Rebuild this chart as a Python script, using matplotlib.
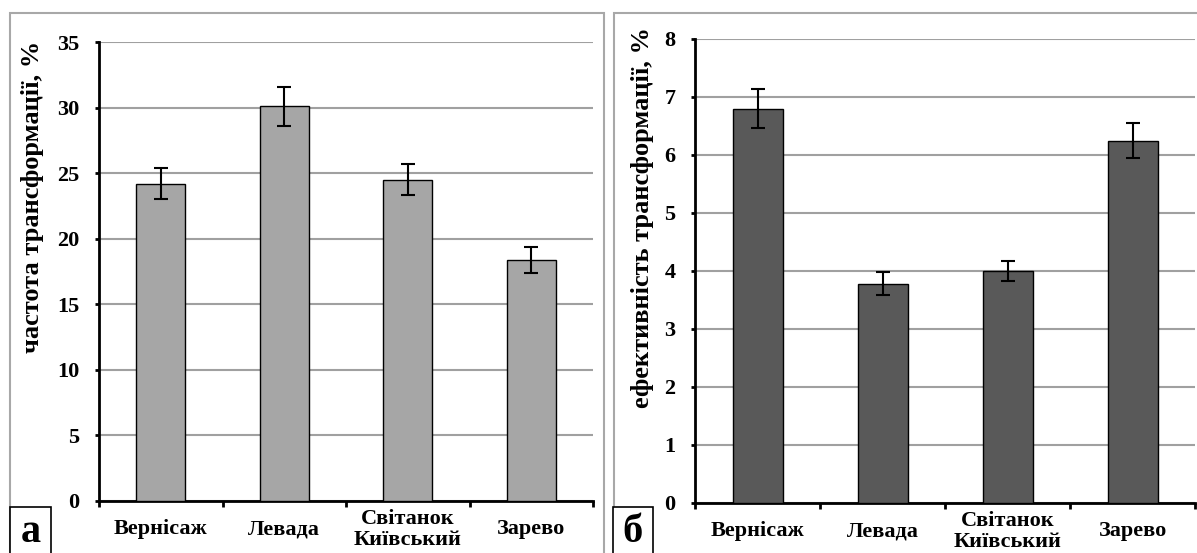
import matplotlib
matplotlib.use("Agg")
import matplotlib.pyplot as plt
from matplotlib.patches import Rectangle

categories = ["Вернісаж", "Левада", "Світанок\nКиївський", "Зарево"]
freq_values = [24.2, 30.1, 24.5, 18.4]
freq_errors = [1.2, 1.5, 1.2, 1.0]
eff_values = [6.8, 3.78, 4.0, 6.25]
eff_errors = [0.33, 0.2, 0.18, 0.3]
freq_ticks = [0, 5, 10, 15, 20, 25, 30, 35]
eff_ticks = [0, 1, 2, 3, 4, 5, 6, 7, 8]

plt.rcParams['font.family'] = ['Liberation Serif', 'DejaVu Serif']
plt.rcParams['font.weight'] = 'bold'

W, H = 1197, 553
fig = plt.figure(figsize=(W / 100, H / 100), dpi=100)


def px_rect(x0, y_top, x1, y_bot):
    return [x0 / W, 1 - y_bot / H, (x1 - x0) / W, (y_bot - y_top) / H]


# panel frames
for (x0, y0, x1, y1) in [(10, 13, 604, 560), (614, 13, 1205, 560)]:
    fig.patches.append(Rectangle((x0 / W, 1 - y1 / H), (x1 - x0) / W, (y1 - y0) / H,
                                 transform=fig.transFigure, facecolor='none',
                                 edgecolor='#A8A8A8', lw=1.5, zorder=0))

ax1 = fig.add_axes(px_rect(99, 42, 593, 501))
ax2 = fig.add_axes(px_rect(695, 39, 1195, 503))


def style(ax, values, errors, ticks, color, ylabel, label_xy):
    x = list(range(len(categories)))
    ax.bar(x, values, width=0.4, color=color, edgecolor='black', linewidth=1.0, zorder=3)
    ax.errorbar(x, values, yerr=errors, fmt='none', ecolor='black', elinewidth=1.5,
                capsize=5, capthick=1.5, zorder=4)
    ax.set_xlim(-0.5, len(categories) - 0.5)
    ax.set_ylim(ticks[0], ticks[-1])
    ax.set_yticks(ticks)
    ax.set_yticklabels([str(t) for t in ticks], fontsize=16, fontweight='bold')
    ax.yaxis.grid(True, color='#A0A0A0', lw=1.5, zorder=0)
    ax.set_axisbelow(True)
    ax.set_xticks(x)
    ax.set_xticklabels(categories, fontsize=16, fontweight='bold', linespacing=1.1)
    for lbl in ax.get_xticklabels():
        lbl.set_verticalalignment('center')
    ax.set_xticks([i - 0.5 for i in range(len(categories) + 1)], minor=True)
    ax.tick_params(axis='x', which='major', length=0, pad=20.5)
    ax.tick_params(axis='x', which='minor', length=4, width=2, direction='out')
    ax.tick_params(axis='y', length=3, width=2, direction='out', pad=11)
    for s in ['top', 'right']:
        ax.spines[s].set_visible(False)
    for s in ['left', 'bottom']:
        ax.spines[s].set_linewidth(2)
        ax.spines[s].set_color('black')
    ax.set_ylabel(ylabel, fontsize=19, fontweight='bold')
    ax.yaxis.set_label_coords(*label_xy)
    ax.yaxis.label.set_verticalalignment('center')


style(ax1, freq_values, freq_errors, freq_ticks, '#A6A6A6',
      'частота трансформації, %', (-0.134, 0.662))
style(ax2, eff_values, eff_errors, eff_ticks, '#595959',
      'ефективність трансформації, %', (-0.104, 0.616))

# panel letters
for (x0, x1, letter) in [(10, 51, 'а'), (613, 653, 'б')]:
    fig.patches.append(Rectangle((x0 / W, -0.01), (x1 - x0) / W, (553 - 507) / H + 0.01,
                                 transform=fig.transFigure, facecolor='white',
                                 edgecolor='black', lw=1.2, zorder=5))
    fig.text((x0 + x1) / 2 / W, 1 - 533 / H, letter, fontsize=29, fontweight='bold',
             ha='center', va='center', zorder=6)

fig.savefig('out.png', dpi=100)
